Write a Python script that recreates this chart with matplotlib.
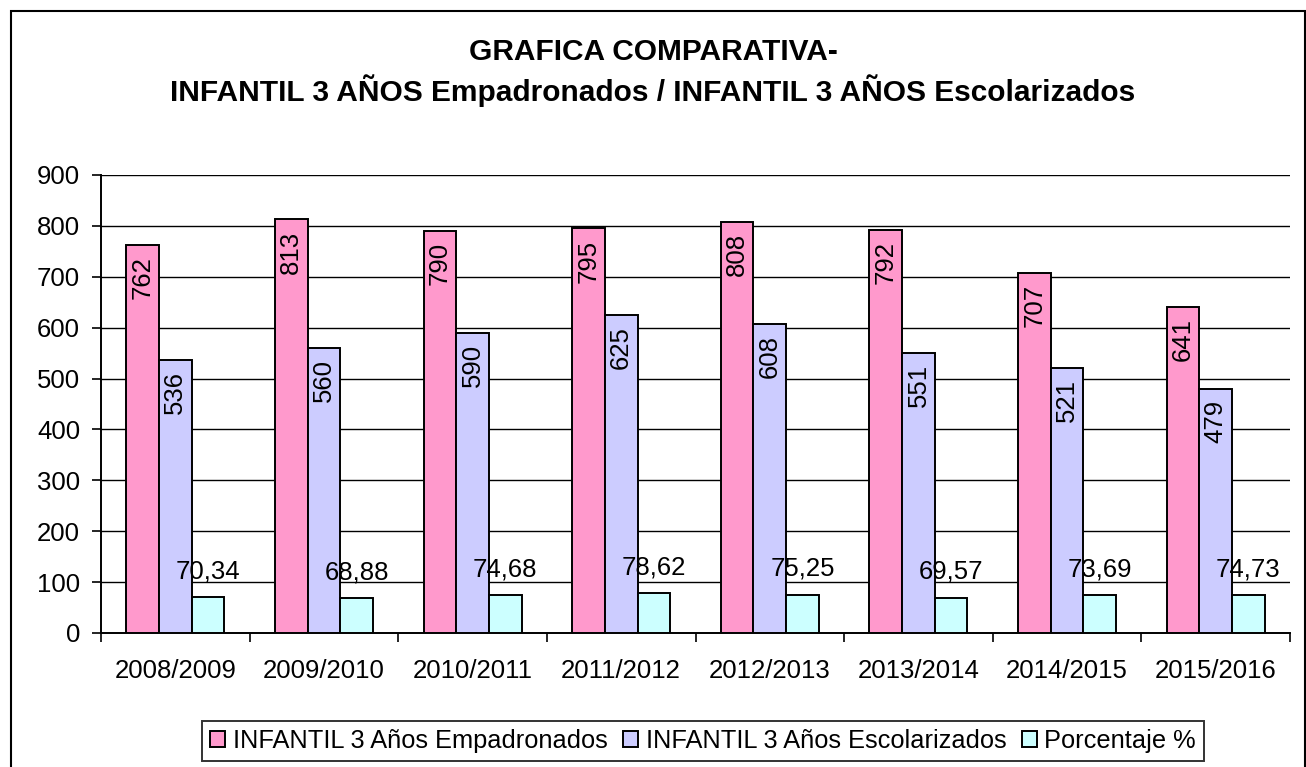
import matplotlib
matplotlib.use("Agg")
import matplotlib.pyplot as plt
import numpy as np
from matplotlib.patches import Rectangle

categories = ["2008/2009", "2009/2010", "2010/2011", "2011/2012",
              "2012/2013", "2013/2014", "2014/2015", "2015/2016"]
empadronados = [762, 813, 790, 795, 808, 792, 707, 641]
escolarizados = [536, 560, 590, 625, 608, 551, 521, 479]
porcentaje = [70.34, 68.88, 74.68, 78.62, 75.25, 69.57, 73.69, 74.73]
series_names = ["INFANTIL 3 Años Empadronados", "INFANTIL 3 Años Escolarizados", "Porcentaje %"]
colors = ["#FF99CC", "#CCCCFF", "#CCFFFF"]

plt.rcParams['font.family'] = ['Liberation Sans', 'DejaVu Sans']

W, H = 1306, 767
fig = plt.figure(figsize=(W/100, H/100), dpi=100)
fig.patches.append(Rectangle((11/W, -0.05), (1305-11)/W, (H-11)/H + 0.05,
                             transform=fig.transFigure, fill=False, edgecolor='black', lw=1.5))
ax = fig.add_axes([101/W, 1-633/H, (1290-101)/W, (633-175)/H])

x = np.arange(len(categories))
w = 0.22
b1 = ax.bar(x - w, empadronados, w, color=colors[0], edgecolor='black', lw=1.4, label=series_names[0], zorder=3)
b2 = ax.bar(x, escolarizados, w, color=colors[1], edgecolor='black', lw=1.4, label=series_names[1], zorder=3)
b3 = ax.bar(x + w, porcentaje, w, color=colors[2], edgecolor='black', lw=1.4, label=series_names[2], zorder=3)

fs = 18.5
for bars, vals in ((b1, empadronados), (b2, escolarizados)):
    for r, v in zip(bars, vals):
        ax.annotate(str(v), (r.get_x() + r.get_width()/2, v), xytext=(0, -8),
                    textcoords='offset points', rotation=90, ha='center', va='top',
                    fontsize=fs, zorder=4)
for r, v in zip(b3, porcentaje):
    ax.annotate(f"{v:.2f}".replace('.', ','), (r.get_x() + r.get_width()/2, v), xytext=(0, 10),
                textcoords='offset points', ha='center', va='bottom', fontsize=fs, zorder=4)

ax.set_xlim(-0.5, len(categories) - 0.5)
ax.set_ylim(0, 900)
ax.set_yticks(range(0, 901, 100))
ax.set_xticks(np.arange(-0.5, len(categories), 1.0), minor=False)
ax.set_xticklabels([])
ax.set_xticks(x, minor=True)
ax.set_xticklabels(categories, minor=True, fontsize=fs)
ax.tick_params(axis='x', which='minor', length=0, pad=19)
ax.tick_params(axis='x', which='major', length=6.5, direction='out', width=1.2)
ax.tick_params(axis='y', length=6.5, direction='out', width=1.2, labelsize=fs, pad=8.5)
ax.yaxis.grid(True, color='black', lw=1, zorder=0)
ax.set_axisbelow(True)
for s in ('top', 'right'):
    ax.spines[s].set_visible(False)
ax.spines['left'].set_linewidth(1.4)
ax.spines['bottom'].set_linewidth(1.4)

fig.text(0.5, 1-52/H, "GRAFICA COMPARATIVA-", ha='center', va='center', fontsize=21.5, fontweight='bold')
fig.text(0.5, 1-91/H, "INFANTIL 3 AÑOS Empadronados / INFANTIL 3 AÑOS Escolarizados",
         ha='center', va='center', fontsize=21.5, fontweight='bold')

leg = fig.legend(loc='center', bbox_to_anchor=(703/W, 1-741/H), ncol=3, fontsize=18.3,
                 frameon=True, fancybox=False, edgecolor='black', handlelength=0.6,
                 handleheight=0.6, handletextpad=0.3, columnspacing=0.6, borderpad=0.3)
leg.get_frame().set_linewidth(1.4)

fig.savefig("out.png", dpi=100)
